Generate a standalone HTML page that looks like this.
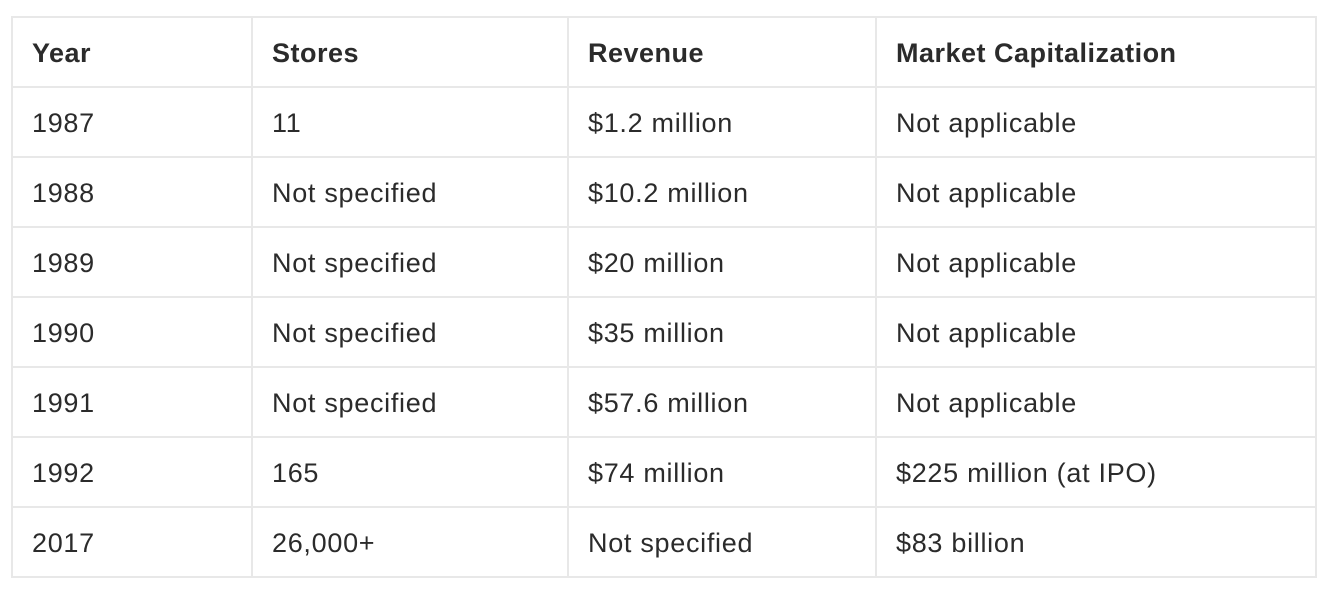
<!DOCTYPE html>
<html><head><meta charset="utf-8">
<style>
html,body{margin:0;padding:0;background:#fff;width:1326px;height:594px;overflow:hidden}
table{position:absolute;left:11px;top:16px;border-collapse:collapse;table-layout:fixed;width:1304px;
font-family:"Liberation Sans",sans-serif;font-size:27px;letter-spacing:0.7px;color:#2b2b2b}
td,th{border:2px solid #e8e8e8;height:68px;padding:2px 0 0 19px;text-align:left;vertical-align:middle;white-space:nowrap;box-sizing:border-box}
th{font-weight:bold;letter-spacing:0.5px}
tr{height:70px}
</style></head><body>
<table>
<colgroup><col style="width:240px"><col style="width:316px"><col style="width:308px"><col style="width:440px"></colgroup>
<thead><tr>
<th>Year</th>
<th>Stores</th>
<th>Revenue</th>
<th>Market Capitalization</th></tr></thead>
<tbody>
<tr><td>1987</td><td>11</td><td>$1.2 million</td><td>Not applicable</td></tr>
<tr><td>1988</td><td>Not specified</td><td>$10.2 million</td><td>Not applicable</td></tr>
<tr><td>1989</td><td>Not specified</td><td>$20 million</td><td>Not applicable</td></tr>
<tr><td>1990</td><td>Not specified</td><td>$35 million</td><td>Not applicable</td></tr>
<tr><td>1991</td><td>Not specified</td><td>$57.6 million</td><td>Not applicable</td></tr>
<tr><td>1992</td><td>165</td><td>$74 million</td><td>$225 million (at IPO)</td></tr>
<tr><td>2017</td><td>26,000+</td><td>Not specified</td><td>$83 billion</td></tr>
</tbody></table>
</body></html>
